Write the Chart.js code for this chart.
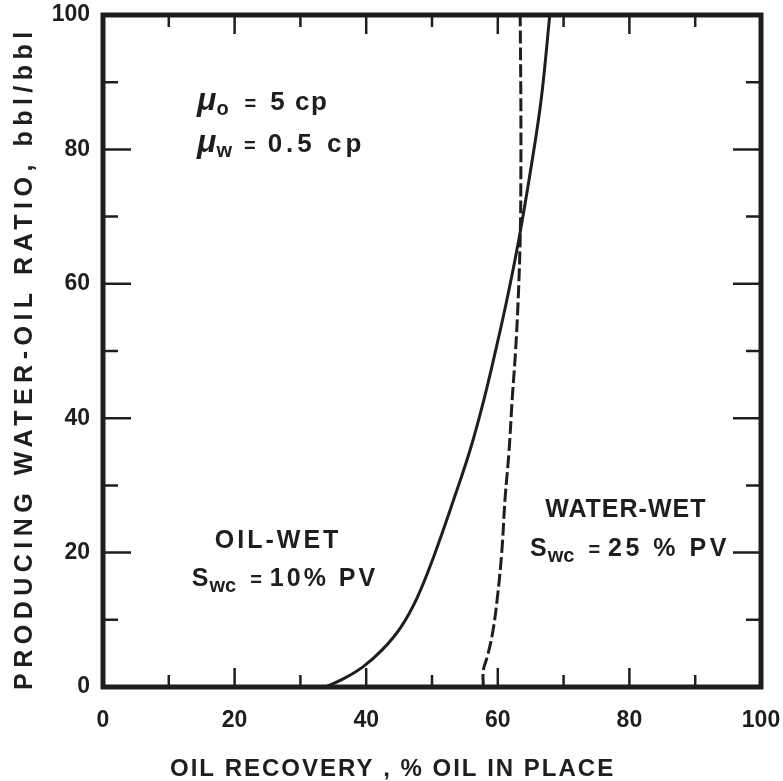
<!DOCTYPE html>
<html>
<head>
<meta charset="utf-8">
<script src="https://cdn.jsdelivr.net/npm/chart.js@4/dist/chart.umd.min.js"></script>
<style>
  html, body { margin: 0; padding: 0; background: #fff; }
  #wrap { width: 783px; height: 781px; }
</style>
</head>
<body>
<div id="wrap"><canvas id="myChart" width="783" height="781"></canvas></div>
<script>
// Oil-wet curve (Swc = 10% PV)
const oilWetRecovery = [33.8, 36.5, 39.5, 42.5, 45.2, 47.7, 50.3, 53.3, 55.8, 57.9, 59.7, 61.4, 63.2, 65.0, 66.6, 67.9];
const oilWetWor      = [0, 1.2, 3.0, 5.6, 8.8, 13.2, 19.5, 27.9, 35.3, 42.8, 50.2, 57.7, 66.6, 77.0, 87.5, 100];

// Water-wet curve (Swc = 25% PV)
const waterWetRecovery = [57.8, 57.8, 58.4, 59.2, 59.9, 60.6, 61.1, 61.7, 62.2, 62.7, 63.1, 63.4, 63.5, 63.5, 63.4];
const waterWetWor      = [0, 2.5, 4.5, 8.0, 13.0, 20.0, 28.0, 35.0, 43.0, 50.0, 57.7, 66.6, 75.0, 87.5, 100];

const xTickLabels = [0, 20, 40, 60, 80, 100];
const yTickLabels = [0, 20, 40, 60, 80, 100];

const xTitle = "OIL RECOVERY , % OIL IN PLACE";
const yTitle = "PRODUCING WATER-OIL RATIO, bbl/bbl";

const ink = "#1e1e1e";
const fontFamily = "'Liberation Sans', Arial, sans-serif";

function toPoints(xs, ys) {
    return xs.map((x, i) => ({ x: x, y: ys[i] }));
}

// draws a line of text made of runs (normal / subscript)
function drawRuns(ctx, x, y, runs) {
    let cx = x;
    runs.forEach(r => {
        ctx.font = (r.italic ? "italic " : "") + "bold " + r.size + "px " + fontFamily;
        ctx.letterSpacing = (r.ls || 0) + "px";
        ctx.fillText(r.t, cx, y + (r.dy || 0));
        cx += ctx.measureText(r.t).width + (r.gap || 0);
    });
    ctx.letterSpacing = "0px";
}

// keep the plot box where the reference has it (labels may overflow)
function noScalePadding(s) {
    s.paddingTop = 0;
    s.paddingBottom = 0;
    s.paddingLeft = 0;
    s.paddingRight = 0;
}

const framePlugin = {
    id: "frame",
    afterDraw(chart) {
        const ctx = chart.ctx;
        const a = chart.chartArea;
        const xs = chart.scales.x;
        const ys = chart.scales.y;
        ctx.save();
        ctx.strokeStyle = ink;
        ctx.fillStyle = ink;

        // inward ticks on all four sides
        ctx.lineWidth = 2.5;
        for (let v = 10; v < 100; v += 10) {
            const major = v % 20 === 0;
            const px = xs.getPixelForValue(v);
            const py = ys.getPixelForValue(v);
            const hx = major ? 19 : 12;
            const hy = major ? 28 : 15;
            ctx.beginPath();
            ctx.moveTo(px, a.bottom); ctx.lineTo(px, a.bottom - hx);
            ctx.moveTo(px, a.top); ctx.lineTo(px, a.top + hx);
            ctx.moveTo(a.left, py); ctx.lineTo(a.left + hy, py);
            ctx.moveTo(a.right, py); ctx.lineTo(a.right - hy, py);
            ctx.stroke();
        }

        // frame
        ctx.lineWidth = 5;
        ctx.strokeRect(a.left, a.top, a.right - a.left, a.bottom - a.top);

        // axis titles
        ctx.textBaseline = "alphabetic";
        ctx.textAlign = "left";
        ctx.font = "bold 24px " + fontFamily;
        ctx.letterSpacing = "2px";
        ctx.fillText(xTitle, 170, 776);

        ctx.translate(32, 690);
        ctx.rotate(-Math.PI / 2);
        ctx.font = "bold 25px " + fontFamily;
        ctx.letterSpacing = "5.5px";
        ctx.fillText(yTitle, 0, 0);
        ctx.setTransform(1, 0, 0, 1, 0, 0);
        ctx.letterSpacing = "0px";

        // annotations
        const X = v => xs.getPixelForValue(v);
        const Y = v => ys.getPixelForValue(v);
        drawRuns(ctx, X(14.3), Y(85.9), [
            { t: "\u03BC", size: 32, italic: true, gap: 0 },
            { t: "o", size: 20, dy: 5, gap: 16 },
            { t: "=", size: 20, gap: 14 },
            { t: "5 cp", size: 26, ls: 1.5 }
        ]);
        drawRuns(ctx, X(14.3), Y(79.6), [
            { t: "\u03BC", size: 32, italic: true, gap: 0 },
            { t: "w", size: 20, dy: 5, gap: 12 },
            { t: "=", size: 20, gap: 12 },
            { t: "0.5 cp", size: 26, ls: 4 }
        ]);
        drawRuns(ctx, X(17.0), Y(20.7), [
            { t: "OIL-WET", size: 25, ls: 3 }
        ]);
        drawRuns(ctx, X(13.5), Y(15.0), [
            { t: "S", size: 25, gap: 1 },
            { t: "wc", size: 20, dy: 6, gap: 14 },
            { t: "=", size: 20, gap: 8 },
            { t: "10% PV", size: 25, ls: 3 }
        ]);
        drawRuns(ctx, X(67.2), Y(25.3), [
            { t: "WATER-WET", size: 25, ls: 1 }
        ]);
        drawRuns(ctx, X(64.9), Y(19.5), [
            { t: "S", size: 25, gap: 1 },
            { t: "wc", size: 20, dy: 6, gap: 14 },
            { t: "=", size: 20, gap: 8 },
            { t: "25 % PV", size: 25, ls: 3.5 }
        ]);
        ctx.restore();
    }
};

const ctx = document.getElementById("myChart").getContext("2d");
const myChart = new Chart(ctx, {
    type: "scatter",
    data: {
        datasets: [
            {
                label: "Oil-wet",
                data: toPoints(oilWetRecovery, oilWetWor),
                showLine: true,
                borderColor: ink,
                borderWidth: 3,
                pointRadius: 0,
                tension: 0.4,
                fill: false
            },
            {
                label: "Water-wet",
                data: toPoints(waterWetRecovery, waterWetWor),
                showLine: true,
                borderColor: ink,
                borderWidth: 3,
                borderDash: [13, 4],
                pointRadius: 0,
                tension: 0.4,
                fill: false
            }
        ]
    },
    options: {
        responsive: false,
        animation: false,
        indexAxis: "y",
        layout: { padding: { top: 15, right: 22, left: 0, bottom: 0 } },
        plugins: {
            legend: { display: false },
            tooltip: { enabled: false }
        },
        scales: {
            x: {
                type: "linear",
                position: "bottom",
                min: 0,
                max: 100,
                afterBuildTicks: s => { s.ticks = xTickLabels.map(v => ({ value: v })); },
                afterFit: s => { s.height = 94; noScalePadding(s); },
                grid: { display: false, drawTicks: false },
                border: { display: false },
                ticks: {
                    color: ink,
                    padding: 20,
                    maxRotation: 0,
                    font: { family: fontFamily, size: 23, weight: "bold" }
                }
            },
            y: {
                type: "linear",
                position: "left",
                min: 0,
                max: 100,
                afterBuildTicks: s => { s.ticks = yTickLabels.map(v => ({ value: v })); },
                afterFit: s => { s.width = 103; noScalePadding(s); },
                grid: { display: false, drawTicks: false },
                border: { display: false },
                ticks: {
                    color: ink,
                    padding: 13,
                    font: { family: fontFamily, size: 23, weight: "bold" }
                }
            }
        }
    },
    plugins: [framePlugin]
});
</script>
</body>
</html>
